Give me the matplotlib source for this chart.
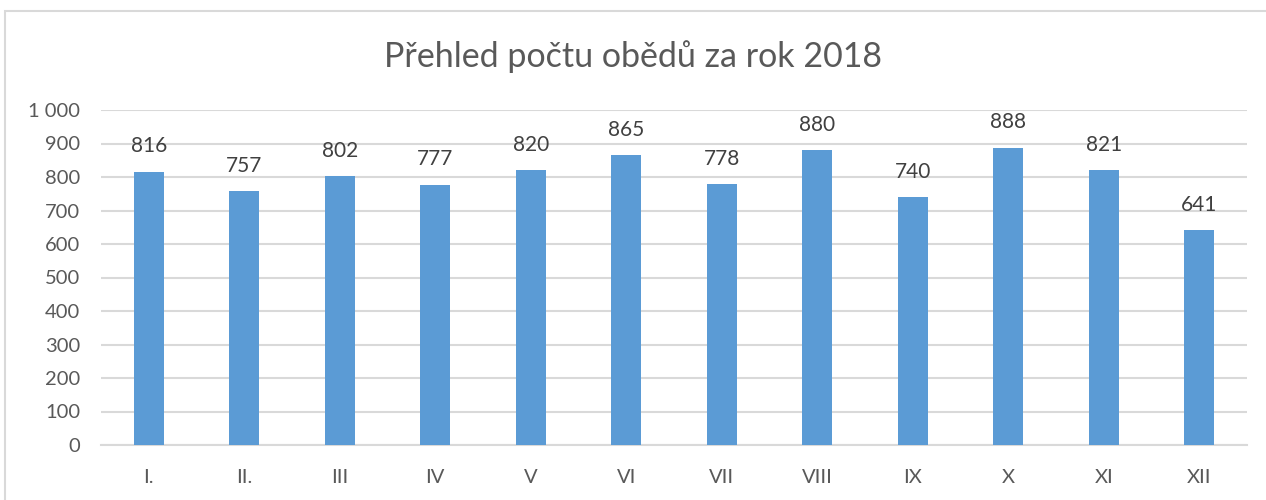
import matplotlib

matplotlib.use("Agg")
import matplotlib.pyplot as plt
from matplotlib.patches import Rectangle
from matplotlib.ticker import FuncFormatter

months = ["I.", "II.", "III", "IV", "V", "VI", "VII", "VIII", "IX", "X", "XI", "XII"]
lunches = [816, 757, 802, 777, 820, 865, 778, 880, 740, 888, 821, 641]
yticks = [0, 100, 200, 300, 400, 500, 600, 700, 800, 900, 1000]

plt.rcParams["font.family"] = ["Lato", "DejaVu Sans"]
text_color = "#595959"
grid_color = "#d9d9d9"
bar_color = "#5b9bd5"

W, H = 1266, 500
fig = plt.figure(figsize=(W / 100, H / 100), dpi=100)
ax = fig.add_axes([101 / W, 1 - 445 / H, (1247 - 101) / W, (445 - 110) / H])

x = range(len(months))
bars = ax.bar(x, lunches, width=0.31, color=bar_color, zorder=3)
for xi, v in zip(x, lunches):
    ax.annotate(str(v), (xi, v), xytext=(0, 11), textcoords="offset points",
                ha="center", va="bottom", fontsize=15, color="#404040")

ax.set_xlim(-0.5, len(months) - 0.5)
ax.set_ylim(0, 1000)
ax.set_yticks(yticks)
ax.yaxis.set_major_formatter(FuncFormatter(lambda v, p: f"{int(v):,}".replace(",", " ")))
ax.set_xticks(list(x))
ax.set_xticklabels(months)
ax.tick_params(axis="both", length=0, labelsize=14.5, labelcolor=text_color)
ax.tick_params(axis="x", pad=17)
ax.tick_params(axis="y", pad=15)
ax.grid(axis="y", color=grid_color, linewidth=1.5, zorder=0)
for s in ["top", "right", "left"]:
    ax.spines[s].set_visible(False)
ax.spines["bottom"].set_color(grid_color)
ax.spines["bottom"].set_linewidth(1.5)

fig.text(0.5, 1 - 57 / H, "Přehled počtu obědů za rok 2018", ha="center", va="center",
         fontsize=24.5, color=text_color)

fig.patches.append(Rectangle((5 / W, -0.1), 1.2, 1 - 11 / H + 0.1, transform=fig.transFigure,
                             fill=False, edgecolor=grid_color, linewidth=1.5))

fig.savefig("out.png", dpi=100)
